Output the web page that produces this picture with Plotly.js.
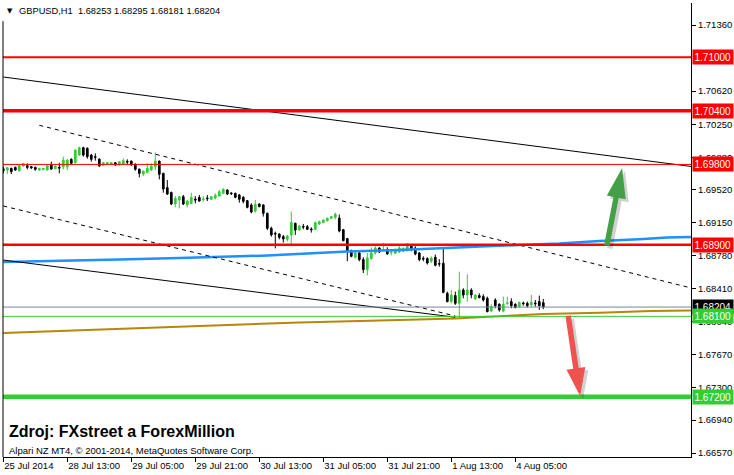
<!DOCTYPE html>
<html><head><meta charset="utf-8">
<script src="https://cdn.plot.ly/plotly-3.0.1.min.js"></script>
<style>html,body{margin:0;padding:0;background:#fff;}#chart{width:734px;height:475px;}</style>
</head><body><div id="chart"></div>
<script>
const symbol = "GBPUSD,H1";
const open = [
1.69752,1.69737,1.69756,1.69767,1.69730,1.69782,1.69786,1.69775,1.69767,1.69737,
1.69741,1.69737,1.69793,1.69752,1.69767,1.69775,1.69775,1.69857,1.69819,1.69905,
1.69987,1.69980,1.69905,1.69887,1.69860,1.69790,1.69804,1.69804,1.69819,1.69793,
1.69804,1.69834,1.69838,1.69804,1.69748,1.69693,1.69711,1.69737,1.69775,1.69838,
1.69700,1.69540,1.69487,1.69357,1.69402,1.69439,1.69346,1.69364,1.69413,1.69431,
1.69405,1.69424,1.69409,1.69424,1.69446,1.69477,1.69514,1.69481,1.69477,1.69458,
1.69432,1.69395,1.69346,1.69279,1.69357,1.69346,1.69253,1.69085,1.69029,1.69022,
1.68992,1.68962,1.69011,1.69141,1.69066,1.69107,1.69104,1.69078,1.69074,1.69134,
1.69149,1.69171,1.69197,1.69208,1.69200,1.69070,1.68970,1.68835,1.68761,1.68809,
1.68735,1.68623,1.68746,1.68809,1.68865,1.68839,1.68847,1.68817,1.68806,1.68820,
1.68828,1.68835,1.68895,1.68865,1.68809,1.68749,1.68746,1.68716,1.68761,1.68690,
1.68694,1.68358,1.68265,1.68332,1.68246,1.68395,1.68339,1.68395,1.68295,1.68332,
1.68321,1.68302,1.68160,1.68283,1.68235,1.68160,1.68242,1.68265,1.68235,1.68209,
1.68250,1.68246,1.68228,1.68250,1.68265,1.68253];
const high = [
1.69775,1.69771,1.69763,1.69775,1.69793,1.69819,1.69812,1.69782,1.69775,1.69760,
1.69760,1.69793,1.69831,1.69790,1.69819,1.69887,1.69857,1.69868,1.69969,1.69998,
1.69998,1.69991,1.69916,1.69924,1.69868,1.69827,1.69823,1.69827,1.69827,1.69838,
1.69868,1.69857,1.69842,1.69808,1.69752,1.69730,1.69812,1.69812,1.69935,1.69842,
1.69707,1.69625,1.69495,1.69446,1.69446,1.69458,1.69402,1.69484,1.69446,1.69458,
1.69446,1.69458,1.69446,1.69476,1.69513,1.69533,1.69522,1.69488,1.69484,1.69469,
1.69447,1.69402,1.69365,1.69402,1.69365,1.69354,1.69261,1.69104,1.69048,1.69029,
1.69011,1.69011,1.69272,1.69149,1.69122,1.69134,1.69122,1.69096,1.69160,1.69171,
1.69186,1.69205,1.69223,1.69261,1.69240,1.69078,1.68977,1.68847,1.68828,1.68828,
1.68761,1.68809,1.68873,1.68884,1.68873,1.68921,1.68873,1.68847,1.68858,1.68895,
1.68873,1.68921,1.68903,1.68884,1.68820,1.68772,1.68761,1.68772,1.68791,1.68740,
1.68865,1.68377,1.68395,1.68377,1.68600,1.68414,1.68571,1.68414,1.68347,1.68358,
1.68347,1.68321,1.68235,1.68302,1.68246,1.68321,1.68321,1.68302,1.68246,1.68265,
1.68265,1.68265,1.68339,1.68283,1.68332,1.68295];
const low = [
1.69700,1.69693,1.69693,1.69730,1.69719,1.69775,1.69745,1.69752,1.69730,1.69730,
1.69737,1.69734,1.69737,1.69745,1.69700,1.69745,1.69737,1.69804,1.69812,1.69901,
1.69887,1.69864,1.69831,1.69842,1.69775,1.69782,1.69801,1.69797,1.69790,1.69790,
1.69801,1.69804,1.69790,1.69730,1.69655,1.69670,1.69700,1.69730,1.69737,1.69633,
1.69484,1.69458,1.69346,1.69320,1.69308,1.69346,1.69320,1.69357,1.69364,1.69383,
1.69383,1.69390,1.69402,1.69409,1.69439,1.69469,1.69458,1.69458,1.69421,1.69372,
1.69365,1.69309,1.69253,1.69261,1.69320,1.69216,1.69066,1.68992,1.68861,1.68962,
1.68925,1.68936,1.68910,1.69011,1.69059,1.69074,1.69066,1.69037,1.69066,1.69122,
1.69141,1.69160,1.69190,1.69186,1.69040,1.68940,1.68716,1.68761,1.68746,1.68716,
1.68585,1.68559,1.68735,1.68791,1.68809,1.68828,1.68791,1.68783,1.68798,1.68809,
1.68820,1.68828,1.68828,1.68783,1.68716,1.68716,1.68679,1.68697,1.68660,1.68656,
1.68358,1.68257,1.68246,1.68228,1.68086,1.68302,1.68265,1.68302,1.68283,1.68302,
1.68265,1.68145,1.68145,1.68190,1.68153,1.68145,1.68228,1.68190,1.68190,1.68198,
1.68220,1.68198,1.68209,1.68209,1.68172,1.68181];
const close = [
1.69730,1.69763,1.69719,1.69737,1.69786,1.69808,1.69767,1.69760,1.69745,1.69756,
1.69756,1.69786,1.69748,1.69782,1.69760,1.69849,1.69849,1.69812,1.69961,1.69987,
1.69905,1.69887,1.69857,1.69879,1.69782,1.69819,1.69819,1.69819,1.69793,1.69831,
1.69842,1.69827,1.69793,1.69745,1.69700,1.69726,1.69756,1.69782,1.69838,1.69689,
1.69525,1.69469,1.69357,1.69420,1.69439,1.69357,1.69390,1.69431,1.69402,1.69390,
1.69413,1.69417,1.69439,1.69454,1.69495,1.69522,1.69469,1.69473,1.69432,1.69410,
1.69387,1.69320,1.69268,1.69354,1.69328,1.69253,1.69085,1.69011,1.69022,1.68984,
1.68966,1.68999,1.69149,1.69066,1.69111,1.69100,1.69074,1.69070,1.69149,1.69160,
1.69178,1.69197,1.69216,1.69242,1.69055,1.68947,1.68828,1.68772,1.68809,1.68735,
1.68623,1.68753,1.68809,1.68865,1.68820,1.68847,1.68798,1.68824,1.68843,1.68865,
1.68858,1.68884,1.68858,1.68798,1.68735,1.68742,1.68697,1.68753,1.68671,1.68685,
1.68369,1.68265,1.68339,1.68246,1.68395,1.68339,1.68395,1.68339,1.68339,1.68310,
1.68283,1.68153,1.68209,1.68220,1.68172,1.68235,1.68250,1.68220,1.68198,1.68257,
1.68242,1.68220,1.68257,1.68242,1.68220,1.68204];

const timeTickIndex = [0,16,32,48,64,80,96,112,128];
const timeTickText = ["25 Jul 2014","28 Jul 13:00","29 Jul 05:00","29 Jul 21:00","30 Jul 13:00","31 Jul 05:00","31 Jul 21:00","1 Aug 13:00","4 Aug 05:00"];
const priceTicks = [1.71360,1.70620,1.70250,1.69880,1.69520,1.69150,1.68780,1.68410,1.68040,1.67670,1.67300,1.66940,1.66570];

const resistanceLevels = [1.71000,1.70400,1.69800,1.68900];
const supportLevels = [1.68100,1.67200];

const blueMaIndex = [0,14,29,44,56,66,76,86,99,109,119,129,139,149,159,166,172];
const blueMaPrice = [1.68708,1.68719,1.68736,1.68753,1.68768,1.68781,1.68803,1.68826,1.68843,1.68859,1.68876,1.68899,1.68916,1.68944,1.68963,1.68983,1.68988];
const brownMaIndex = [0,24,49,74,99,113,120,127,135,149,162,172];
const brownMaPrice = [1.67914,1.67953,1.67992,1.68031,1.68059,1.68076,1.68093,1.68112,1.68127,1.68141,1.68160,1.68166];

const upperTrendIndex = [0,172];
const upperTrendPrice = [1.70778,1.69777];
const lowerTrendIndex = [0,113];
const lowerTrendPrice = [1.68730,1.68090];
const upperChannelIndex = [9,172];
const upperChannelPrice = [1.70238,1.68417];
const lowerChannelIndex = [0,113];
const lowerChannelPrice = [1.69335,1.68104];

const barIndex = open.map((_, i) => i);
const last = close.length - 1;
const fmt = v => v.toFixed(5);
const FONT = "Liberation Sans, Arial, sans-serif";

const traces = [
  {type:'scatter', mode:'lines', x:brownMaIndex, y:brownMaPrice, line:{color:'#B8860B', width:2}, hoverinfo:'skip'},
  {type:'scatter', mode:'lines', x:blueMaIndex, y:blueMaPrice, line:{color:'#1E90FF', width:2.5}, hoverinfo:'skip'},
  {type:'scatter', mode:'lines', x:upperTrendIndex, y:upperTrendPrice, line:{color:'#000', width:1}, hoverinfo:'skip'},
  {type:'scatter', mode:'lines', x:lowerTrendIndex, y:lowerTrendPrice, line:{color:'#000', width:1}, hoverinfo:'skip'},
  {type:'scatter', mode:'lines', x:upperChannelIndex, y:upperChannelPrice, line:{color:'#000', width:1, dash:'4px,4px'}, hoverinfo:'skip'},
  {type:'scatter', mode:'lines', x:lowerChannelIndex, y:lowerChannelPrice, line:{color:'#000', width:1, dash:'4px,4px'}, hoverinfo:'skip'},
  {type:'candlestick', x:barIndex, open:open, high:high, low:low, close:close, whiskerwidth:0,
   increasing:{line:{color:'#32CD32', width:1}, fillcolor:'#32CD32'},
   decreasing:{line:{color:'#000000', width:1}, fillcolor:'#000000'}, hoverinfo:'skip'}
];

const shapes = [];
const redWidths = [2, 3.5, 1, 2.5];
resistanceLevels.forEach((p, i) => shapes.push({type:'line', xref:'paper', x0:0, x1:1, yref:'y', y0:p, y1:p, line:{color:'#FF0000', width:redWidths[i]}}));
shapes.push({type:'line', xref:'paper', x0:0, x1:1, yref:'y', y0:close[last], y1:close[last], line:{color:'#778899', width:1}});
const greenWidths = [1, 4.5];
supportLevels.forEach((p, i) => shapes.push({type:'line', xref:'paper', x0:0, x1:1, yref:'y', y0:p, y1:p, line:{color:'#32CD32', width:greenWidths[i]}}));
shapes.push({type:'line', xref:'paper', x0:0, x1:0, yref:'paper', y0:0, y1:0.96, line:{color:'#000', width:1}});

function arrowPath(pts, dx, dy){
  return 'M' + pts.map(p => (p[0]+dx).toFixed(1) + ',' + (p[1]+dy).toFixed(1)).join(' L') + ' Z';
}
const upArrow = [[0,0],[3.6,-31.2],[-3.4,-29.9],[-12.6,-78.1],[-18.0,-77.1],[-8.6,-29.0],[-15.2,-27.6]];
const downArrow = [[0,0],[5.2,29.0],[-1.4,28.1],[-9.2,80.5],[-14.6,79.7],[-6.9,27.3],[-13.6,26.2]];
[[upArrow,154.7,1.69760,'#43A047'],[downArrow,144.2,1.67209,'#EF5350']].forEach(a => {
  shapes.push({type:'path', xref:'x', yref:'y', xsizemode:'pixel', ysizemode:'pixel', xanchor:a[1], yanchor:a[2], path:arrowPath(a[0],3,-3), fillcolor:'rgba(0,0,0,0.18)', line:{width:0}});
  shapes.push({type:'path', xref:'x', yref:'y', xsizemode:'pixel', ysizemode:'pixel', xanchor:a[1], yanchor:a[2], path:arrowPath(a[0],0,0), fillcolor:a[3], line:{width:0}});
});

const annotations = [];
function priceBox(p, bg){
  annotations.push({xref:'paper', x:1, xanchor:'left', xshift:1, yref:'y', y:p, yanchor:'middle', text:fmt(p), showarrow:false,
    bgcolor:bg, borderpad:1.5, font:{family:FONT, size:10, color:'#fff'}});
}
resistanceLevels.forEach(p => priceBox(p, '#FF0000'));
priceBox(close[last], '#000000');
supportLevels.forEach(p => priceBox(p, '#32CD32'));

annotations.push({xref:'paper', yref:'paper', x:0, y:0.982, xanchor:'left', yanchor:'middle', xshift:2, showarrow:false,
  text:'\u25BC', font:{family:'DejaVu Sans', size:7, color:'#000'}});
annotations.push({xref:'paper', yref:'paper', x:0, y:0.982, xanchor:'left', yanchor:'middle', xshift:14, showarrow:false,
  text: symbol + '\u00a0\u00a0' + [open[last], high[last], low[last], close[last]].map(fmt).join(' '),
  font:{family:FONT, size:9.3, color:'#000'}});
annotations.push({xref:'paper', yref:'paper', x:0, y:0.0551, xanchor:'left', yanchor:'middle', xshift:4, showarrow:false,
  text:'<b>Zdroj: FXstreet a ForexMillion</b>', font:{family:FONT, size:16, color:'#000'}});
annotations.push({xref:'paper', yref:'paper', x:0, y:0.0154, xanchor:'left', yanchor:'middle', xshift:4, showarrow:false,
  text:'Alpari NZ MT4, \u00a9 2001-2014, MetaQuotes Software Corp.', font:{family:FONT, size:9.5, color:'#000'}});

const layout = {
  width:734, height:475, margin:{l:3, r:43, t:3, b:18, pad:0},
  paper_bgcolor:'#fff', plot_bgcolor:'#fff', showlegend:false, boxgap:0.4,
  font:{family:FONT, size:9.5, color:'#000'},
  xaxis:{range:[-0.075,171.925], showgrid:false, zeroline:false, showline:true, linecolor:'#000', linewidth:1,
    ticks:'outside', ticklen:4, tickcolor:'#000', tickvals:timeTickIndex, ticktext:timeTickText,
    ticklabelposition:'outside right', tickfont:{family:FONT, size:9.5, color:'#000'}, rangeslider:{visible:false}, fixedrange:true},
  yaxis:{side:'right', range:[1.665262,1.716064], showgrid:false, zeroline:false, showline:true, linecolor:'#000', linewidth:1,
    ticks:'outside', ticklen:4, tickcolor:'#000', tickvals:priceTicks, ticktext:priceTicks.map(fmt),
    tickfont:{family:FONT, size:9.5, color:'#000'}, fixedrange:true},
  shapes:shapes, annotations:annotations
};
Plotly.newPlot('chart', traces, layout, {staticPlot:true, displayModeBar:false});
</script></body></html>
